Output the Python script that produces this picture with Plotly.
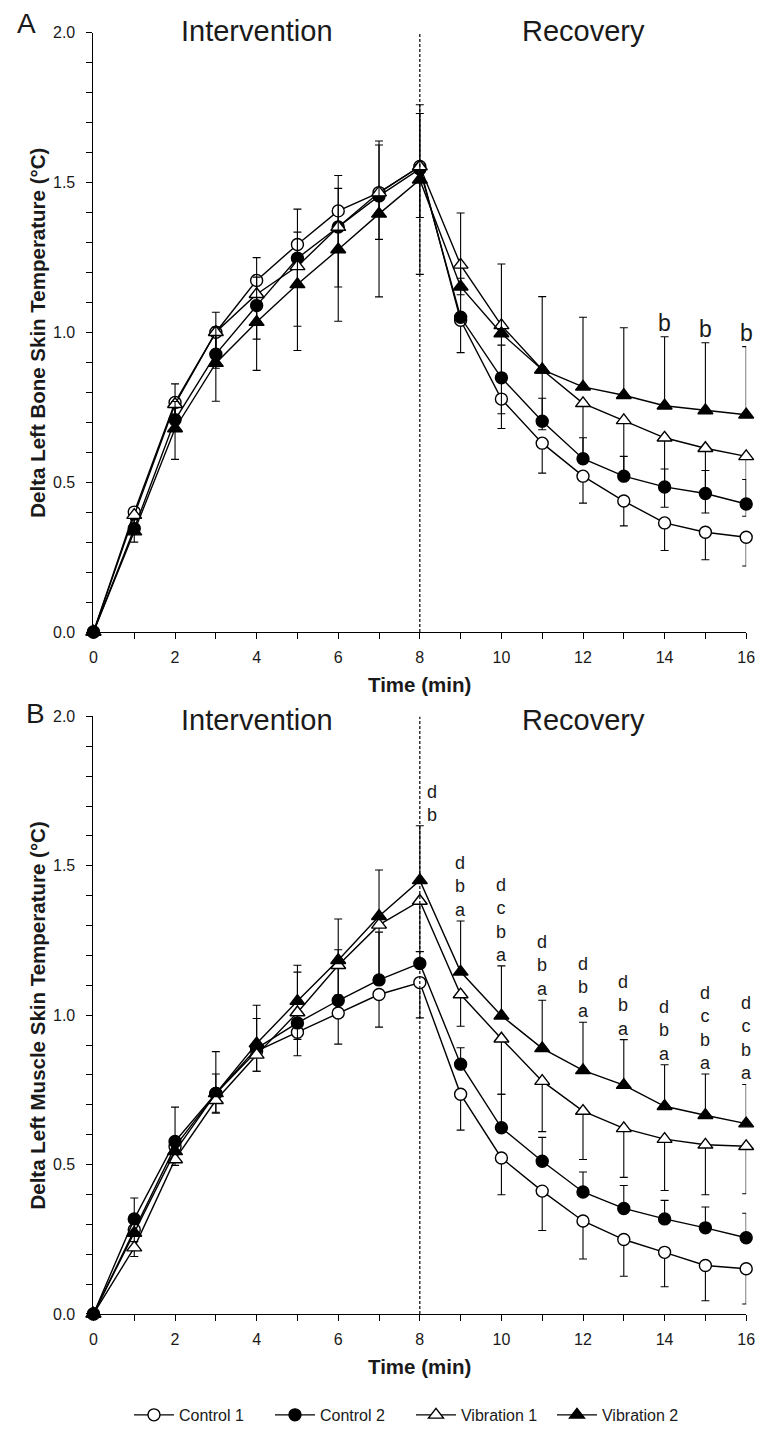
import plotly.graph_objects as go

# ---------------- data ----------------
time = list(range(17))
series_names = ["Control 1", "Control 2", "Vibration 1", "Vibration 2"]

# Panel A: Delta Left Bone Skin Temperature (°C)
bone_c1 = [0, 0.40, 0.766, 1.00, 1.173, 1.293, 1.405, 1.466, 1.553, 1.040, 0.777, 0.630, 0.520, 0.437, 0.364, 0.333, 0.316]
bone_c2 = [0, 0.345, 0.708, 0.927, 1.089, 1.247, 1.351, 1.455, 1.545, 1.050, 0.848, 0.703, 0.578, 0.520, 0.484, 0.462, 0.427]
bone_v1 = [0, 0.39, 0.760, 1.00, 1.127, 1.220, 1.351, 1.466, 1.553, 1.225, 1.023, 0.875, 0.763, 0.706, 0.648, 0.613, 0.586]
bone_v2 = [0, 0.335, 0.679, 0.897, 1.034, 1.160, 1.276, 1.395, 1.509, 1.152, 0.996, 0.875, 0.818, 0.790, 0.755, 0.739, 0.725]
# error bars (C1: minus, C2: plus, V1: minus, V2: plus)
bone_c1_err = [0, 0.10, 0.19, 0.23, 0.30, 0.354, 0.368, 0.348, 0.36, 0.108, 0.098, 0.10, 0.09, 0.083, 0.092, 0.092, 0.096]
bone_c2_err = [0, 0.03, 0.12, 0.14, 0.16, 0.164, 0.172, 0.17, 0.185, 0.13, 0.109, 0.077, 0.07, 0.066, 0.06, 0.077, 0.082]
bone_v1_err = [0, 0.06, 0.08, 0.12, 0.15, 0.20, 0.20, 0.156, 0.17, 0.10, 0.295, 0.20, 0.20, 0.20, 0.232, 0.216, 0.20]
bone_v2_err = [0, 0.04, 0.09, 0.12, 0.15, 0.174, 0.204, 0.243, 0.25, 0.246, 0.232, 0.244, 0.232, 0.225, 0.23, 0.226, 0.227]
bone_letters = {14: ["b"], 15: ["b"], 16: ["b"]}

# Panel B: Delta Left Muscle Skin Temperature (°C)
muscle_c1 = [0, 0.282, 0.560, 0.738, 0.880, 0.943, 1.007, 1.069, 1.109, 0.735, 0.522, 0.411, 0.311, 0.249, 0.206, 0.162, 0.151]
muscle_c2 = [0, 0.318, 0.577, 0.738, 0.889, 0.974, 1.049, 1.118, 1.173, 0.836, 0.623, 0.511, 0.408, 0.353, 0.318, 0.288, 0.255]
muscle_v1 = [0, 0.222, 0.517, 0.715, 0.867, 1.009, 1.167, 1.302, 1.382, 1.069, 0.921, 0.779, 0.679, 0.621, 0.585, 0.566, 0.561]
muscle_v2 = [0, 0.271, 0.544, 0.738, 0.905, 1.047, 1.184, 1.331, 1.451, 1.145, 0.998, 0.889, 0.815, 0.766, 0.695, 0.665, 0.637]
muscle_c1_err = [0, 0.04, 0.05, 0.066, 0.068, 0.079, 0.104, 0.109, 0.118, 0.12, 0.123, 0.132, 0.127, 0.123, 0.115, 0.118, 0.118]
muscle_c2_err = [0, 0.07, 0.115, 0.14, 0.10, 0.17, 0.17, 0.16, 0.04, 0.055, 0.112, 0.08, 0.067, 0.077, 0.062, 0.07, 0.082]
muscle_v1_err = [0, 0.03, 0.02, 0.04, 0.055, 0.09, 0.10, 0.20, 0.17, 0.106, 0.186, 0.169, 0.162, 0.164, 0.172, 0.167, 0.159]
muscle_v2_err = [0, 0.03, 0.05, 0.065, 0.128, 0.12, 0.138, 0.155, 0.183, 0.17, 0.167, 0.161, 0.161, 0.152, 0.139, 0.138, 0.131]
# letters listed top-to-bottom
muscle_letters = {8: ["d", "b"], 9: ["d", "b", "a"], 10: ["d", "c", "b", "a"], 11: ["d", "b", "a"],
                  12: ["d", "b", "a"], 13: ["d", "b", "a"], 14: ["d", "b", "a"],
                  15: ["d", "c", "b", "a"], 16: ["d", "c", "b", "a"]}

x_ticks = [0, 2, 4, 6, 8, 10, 12, 14, 16]
y_ticks = [0.0, 0.5, 1.0, 1.5, 2.0]
y_ticktext = ["0.0", "0.5", "1.0", "1.5", "2.0"]

# ---------------- layout helpers ----------------
W, H = 766, 1432
FONT = "Liberation Sans, Arial, sans-serif"
INK = "#1a1a1a"

def px_y(p):  # pixel from top -> paper
    return 1 - p / H

def px_x(p):
    return p / W

styles = [
    dict(symbol="circle", color="white", size=12),
    dict(symbol="circle", color="black", size=12),
    dict(symbol="triangle-up", color="white", size=13),
    dict(symbol="triangle-up", color="black", size=13),
]
err_dir = ["minus", "plus", "minus", "plus"]

fig = go.Figure()

panels = [
    ("x", "y", [bone_c1, bone_c2, bone_v1, bone_v2],
     [bone_c1_err, bone_c2_err, bone_v1_err, bone_v2_err], bone_letters, True),
    ("x2", "y2", [muscle_c1, muscle_c2, muscle_v1, muscle_v2],
     [muscle_c1_err, muscle_c2_err, muscle_v1_err, muscle_v2_err], muscle_letters, False),
]

annotations = []
for xa, ya, vals, errs, letters, show in panels:
    for i, name in enumerate(series_names):
        zeros = [0] * len(time)
        if err_dir[i] == "plus":
            eplus, eminus = errs[i], zeros
        else:
            eplus, eminus = zeros, errs[i]
        st = styles[i]
        fig.add_trace(go.Scatter(
            x=time, y=vals[i], mode="lines+markers", name=name,
            xaxis=xa, yaxis=ya, showlegend=show, cliponaxis=False,
            line=dict(color="black", width=1.4),
            marker=dict(symbol=st["symbol"], size=st["size"], color=st["color"],
                        line=dict(color="black", width=1.4)),
            error_y=dict(type="data", symmetric=False, array=eplus, arrayminus=eminus,
                         color="black", thickness=1.1, width=4),
        ))
    # significance letters stacked above the highest error bar (one text per time point)
    for t, lets in letters.items():
        top = max(vals[1][t] + errs[1][t], vals[3][t] + errs[3][t])
        annotations.append(dict(
            x=t, y=top, xref=xa, yref=ya, text="<br>".join(lets), showarrow=False,
            yanchor="bottom", xanchor="center", yshift=0, align="center",
            xshift=12 if t == 8 else 0, borderpad=0,
            font=dict(family=FONT, size=18 if len(lets) > 1 else 23, color=INK)))

# panel geometry (pixels)
xA0, xA1 = 91, 755
yA_top, yA_bot = 25, 636
yB_top, yB_bot = 722, 1331

axis_common = dict(showline=True, linecolor="black", linewidth=1, showgrid=False, zeroline=False,
                   ticks="outside", ticklen=6, tickwidth=1, tickcolor="black",
                   tickfont=dict(family=FONT, size=16, color=INK))
xaxis_extra = dict(ticklabelstandoff=5)
yaxis_extra = dict(ticklabelstandoff=8)

fig.update_layout(
    width=W, height=H, margin=dict(l=0, r=0, t=0, b=0),
    paper_bgcolor="white", plot_bgcolor="white",
    font=dict(family=FONT, color=INK),
    xaxis=dict(domain=[px_x(xA0), px_x(xA1)], anchor="y", range=[0, 16], tickvals=x_ticks,
               minor=dict(dtick=1, ticks="outside", ticklen=6, tickcolor="black"),
               **axis_common, **xaxis_extra),
    yaxis=dict(domain=[px_y(yA_bot), px_y(yA_top)], anchor="x", range=[0, 2], tickvals=y_ticks,
               ticktext=y_ticktext,
               minor=dict(dtick=0.1, ticks="outside", ticklen=6, tickcolor="black"),
               **axis_common, **yaxis_extra),
    xaxis2=dict(domain=[px_x(xA0), px_x(xA1)], anchor="y2", range=[0, 16], tickvals=x_ticks,
                minor=dict(dtick=1, ticks="outside", ticklen=6, tickcolor="black"),
                **axis_common, **xaxis_extra),
    yaxis2=dict(domain=[px_y(yB_bot), px_y(yB_top)], anchor="x2", range=[0, 2], tickvals=y_ticks,
                ticktext=y_ticktext,
                minor=dict(dtick=0.1, ticks="outside", ticklen=6, tickcolor="black"),
                **axis_common, **yaxis_extra),
    legend=dict(orientation="h", x=px_x(414), xanchor="center", y=px_y(1434), yanchor="middle",
                font=dict(family=FONT, size=16, color=INK), bgcolor="rgba(0,0,0,0)",
                itemwidth=40, tracegroupgap=0, entrywidth=86, entrywidthmode="pixels"),
)

# dashed separators at t = 8
for xa, ya in [("x", "y"), ("x2", "y2")]:
    fig.add_shape(type="line", x0=8, x1=8, y0=0, y1=2, xref=xa, yref=ya,
                  line=dict(color="black", width=1.2, dash="3px,2px"))

# panel texts
def txt(x, y, s, size, bold=False, angle=0, xanchor="center"):
    annotations.append(dict(x=x, y=y, xref="paper", yref="paper", text=(f"<b>{s}</b>" if bold else s),
                            showarrow=False, xanchor=xanchor, yanchor="middle", textangle=angle,
                            font=dict(family=FONT, size=size, color=INK)))

txt(px_x(23), px_y(16), "A", 28)
txt(px_x(32), px_y(719), "B", 28)
for top in (23, 726):
    txt(px_x(xA0 + (xA1 - xA0) * 4 / 16), px_y(top), "Intervention", 29)
    txt(px_x(xA0 + (xA1 - xA0) * 12 / 16), px_y(top), "Recovery", 29)
txt(px_x(34), px_y((yA_top + yA_bot) / 2), "Delta Left Bone Skin Temperature (°C)", 20.5, bold=True, angle=-90)
txt(px_x(34), px_y((yB_top + yB_bot) / 2), "Delta Left Muscle Skin Temperature (°C)", 20.5, bold=True, angle=-90)
txt(px_x(423), px_y(689), "Time (min)", 20.5, bold=True)
txt(px_x(423), px_y(1385), "Time (min)", 20.5, bold=True)

fig.update_layout(annotations=annotations)
fig.write_html("out.html")
